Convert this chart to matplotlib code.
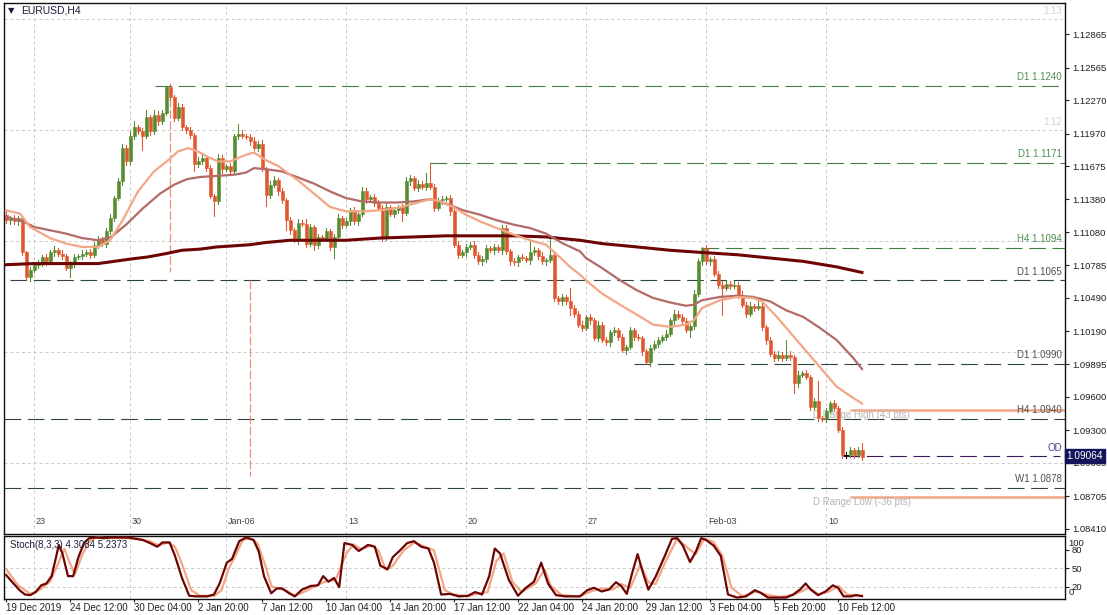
import matplotlib
matplotlib.use('Agg')
import matplotlib.pyplot as plt
import matplotlib.transforms as mtransforms
import numpy as np

plt.rcParams['font.family'] = ['Liberation Sans', 'DejaVu Sans']

# EURUSD H4 candles, prices in 1/10000 (11119 -> 1.1119), open = previous close
first_open = 11124
closes = [11119, 11121, 11118, 11121, 11090, 11068, 11074, 11079, 11080, 11086,
          11082, 11090, 11092, 11089, 11087, 11076, 11080, 11086, 11087, 11089,
          11090, 11088, 11097, 11102, 11098, 11109, 11121, 11139, 11154, 11184,
          11172, 11195, 11203, 11199, 11195, 11212, 11199, 11214, 11208, 11216,
          11239, 11230, 11211, 11221, 11203, 11200, 11196, 11170, 11172, 11175,
          11166, 11141, 11136, 11175, 11165, 11168, 11163, 11195, 11197, 11195,
          11194, 11190, 11184, 11188, 11165, 11142, 11151, 11155, 11145, 11137,
          11119, 11110, 11101, 11117, 11116, 11098, 11113, 11097, 11104, 11102,
          11109, 11095, 11104, 11121, 11115, 11118, 11128, 11118, 11125, 11145,
          11138, 11140, 11135, 11130, 11104, 11131, 11125, 11128, 11131, 11126,
          11154, 11157, 11148, 11152, 11149, 11153, 11149, 11130, 11137, 11138,
          11139, 11127, 11097, 11088, 11090, 11095, 11097, 11088, 11082, 11084,
          11094, 11092, 11095, 11092, 11112, 11091, 11082, 11081, 11086, 11085,
          11083, 11090, 11092, 11087, 11082, 11083, 11088, 11049, 11046, 11050,
          11046, 11040, 11035, 11025, 11022, 11032, 11029, 11013, 11025, 11011,
          11009, 11018, 11020, 11014, 11002, 11005, 11020, 11014, 11013, 11001,
          10991, 11004, 11008, 11011, 11014, 11017, 11029, 11035, 11032, 11028,
          11020, 11024, 11053, 11082, 11094, 11082, 11084, 11071, 11061, 11058,
          11062, 11060, 11061, 11052, 11043, 11035, 11042, 11040, 11042, 11023,
          11011, 10999, 10995, 10998, 10995, 10998, 10996, 10972, 10980, 10981,
          10978, 10951, 10956, 10941, 10940, 10947, 10954, 10950, 10930, 10908,
          10908, 10912, 10908, 10912, 10906]
wick_up = [3, 2, 3, 2, 2, 1, 3, 2, 3, 2, 3, 2, 4, 2, 3, 2, 2, 3, 2, 3,
           2, 3, 2, 3, 2, 3, 4, 2, 3, 4, 3, 4, 5, 2, 3, 6, 2, 4, 3, 2,
           1, 3, 2, 4, 3, 2, 3, 2, 4, 3, 2, 3, 2, 4, 3, 2, 3, 2, 9, 3,
           2, 3, 4, 2, 3, 2, 3, 4, 2, 3, 2, 3, 2, 3, 2, 4, 3, 2, 3, 2,
           3, 2, 3, 4, 2, 3, 2, 3, 2, 4, 3, 2, 3, 2, 3, 4, 2, 3, 2, 3,
           4, 3, 2, 3, 2, 9, 18, 3, 2, 3, 2, 3, 2, 3, 2, 3, 2, 3, 2, 3,
           3, 2, 3, 2, 3, 3, 2, 3, 2, 3, 2, 12, 3, 2, 3, 2, 18, 3, 2, 3,
           2, 12, 3, 2, 3, 2, 3, 2, 3, 2, 3, 2, 3, 2, 3, 2, 3, 2, 3, 2,
           2, 3, 2, 3, 2, 3, 2, 3, 2, 3, 3, 2, 3, 2, 1, 3, 2, 3, 2, 3,
           3, 2, 3, 2, 3, 2, 3, 2, 4, 3, 2, 3, 2, 3, 2, 13, 3, 2, 3, 2,
           3, 2, 3, 18, 2, 3, 2, 3, 2, 3, 2, 3, 2, 3, 6]
wick_dn = [2, 3, 2, 3, 2, 3, 4, 2, 3, 2, 3, 2, 3, 2, 3, 2, 8, 3, 2, 3,
           2, 3, 2, 3, 2, 3, 2, 3, 2, 3, 3, 2, 3, 2, 13, 2, 3, 2, 3, 2,
           2, 3, 3, 2, 3, 2, 3, 7, 3, 2, 3, 2, 13, 2, 3, 2, 3, 2, 3, 2,
           2, 3, 2, 3, 2, 10, 3, 2, 3, 2, 9, 3, 2, 3, 2, 3, 2, 5, 3, 2,
           2, 3, 10, 2, 3, 2, 3, 2, 3, 2, 3, 2, 3, 2, 4, 3, 2, 3, 2, 8,
           2, 3, 2, 3, 2, 3, 2, 3, 2, 3, 2, 3, 2, 3, 2, 3, 2, 3, 2, 3,
           3, 2, 3, 2, 3, 2, 3, 2, 3, 2, 2, 3, 2, 3, 2, 3, 2, 3, 2, 3,
           2, 6, 3, 2, 3, 2, 3, 2, 3, 2, 2, 3, 2, 3, 2, 3, 2, 3, 2, 3,
           1, 3, 2, 3, 2, 3, 2, 3, 2, 3, 2, 6, 3, 2, 3, 2, 3, 2, 3, 24,
           2, 3, 2, 3, 2, 3, 2, 3, 2, 3, 3, 2, 3, 2, 3, 2, 3, 9, 3, 2,
           2, 3, 2, 3, 2, 3, 2, 3, 2, 3, 3, 2, 3, 2, 3]

# moving averages (bar index, price in 1/10000)
fast_idx = [0, 3.5, 6, 11, 15, 19, 23, 26, 29, 33, 37, 40.5, 43, 45.5, 48, 50.5, 53, 56, 60, 62,
            65, 68, 71, 73, 77, 81, 85, 89, 93.5, 97.7, 102, 106, 108.5, 111.8, 115, 118.5, 122.7,
            127, 131, 135, 139.3, 141, 143.5, 145, 149, 153.5, 157.7, 161.8, 166, 170, 172, 174,
            178.5, 182.7, 186.8, 189, 192.7, 197.7, 202.7, 207.7, 211.8, 214]
fast_val = [11128, 11125, 11113, 11103, 11098, 11095, 11095, 11101, 11118, 11145, 11163, 11173,
            11181, 11184, 11181, 11176, 11172, 11172, 11178, 11180, 11173, 11168, 11160, 11155,
            11143, 11131, 11127, 11127, 11128, 11130, 11134, 11138, 11136, 11131, 11124, 11118,
            11112, 11106, 11101, 11097, 11083, 11077, 11070, 11065, 11053, 11043, 11034, 11025,
            11023, 11025, 11029, 11040, 11047, 11050, 11049, 11046, 11032, 11011, 10990, 10969,
            10959, 10954]
slow_idx = [0, 4.3, 7, 11, 15, 19, 23, 26.3, 30, 34.3, 38.5, 42, 45.2, 48.5, 52.7, 57, 60, 62, 65,
            69, 72.7, 77, 81, 85, 89, 93.5, 97.7, 102, 106, 110, 114.3, 118.5, 122.7, 127, 131,
            135, 139.3, 143.5, 145, 149, 153.5, 157.7, 161.8, 166, 170, 172, 174, 178.5, 182.7,
            186.8, 191, 195, 199.3, 203.5, 207.7, 211.8, 214]
slow_val = [11122, 11118, 11113, 11110, 11107, 11103, 11101, 11104, 11115, 11130, 11143, 11151,
            11156, 11158, 11159, 11160, 11162, 11166, 11165, 11163, 11158, 11152, 11145, 11139,
            11136, 11135, 11135, 11136, 11138, 11134, 11128, 11124, 11119, 11115, 11112, 11107,
            11098, 11091, 11085, 11076, 11065, 11056, 11049, 11045, 11042, 11043, 11047, 11050,
            11051, 11050, 11046, 11038, 11032, 11022, 11011, 10995, 10985]
ma200_idx = [0, 7, 15, 23, 27, 31, 35.5, 40, 44, 48.5, 52.7, 57, 61, 65, 71, 77, 85, 93.5, 102,
             110, 118.5, 127, 135, 143.5, 149, 157.7, 166, 174, 182.7, 191, 199.3, 207.7, 214]
ma200_val = [11079, 11080, 11080, 11080, 11082, 11084, 11086, 11089, 11092, 11093, 11095, 11096,
             11097, 11099, 11101, 11101, 11101, 11103, 11104, 11105, 11105, 11105, 11104, 11101,
             11098, 11095, 11092, 11090, 11088, 11085, 11082, 11077, 11072]

# Stochastic(8,3,3)
k_idx = [0, 2, 3.4, 4.75, 6.1, 7.4, 8.8, 10.1, 11.4, 12.3, 13.2, 14.1, 15.5, 16.8, 18.1, 19.5,
         20.8, 22.6, 24.4, 26.2, 28, 30.6, 34.2, 36, 37.8, 39.1, 40.9, 42.2, 44, 45.8, 47.5, 50.3,
         52, 53.4, 55.2, 56.5, 58.3, 60, 61.9, 63.2, 64.5, 66.3, 67.7, 69, 70.8, 72.2, 74, 76.2,
         78, 79.3, 80.6, 82, 83.3, 84.6, 86.5, 88.2, 90.5, 92.2, 93.6, 95.4, 96.7, 98.5, 100.3,
         102, 103.8, 105.6, 107, 108.8, 111, 113.2, 115.5, 117.3, 119, 120.8, 122.2, 123.5, 125.7,
         128, 129.8, 132, 133.8, 135.5, 137.5, 139.8, 143.5, 145.3, 147, 148.9, 150.7, 152.5,
         153.8, 155.2, 156.5, 157.9, 159.3, 160.6, 162.4, 164.7, 166.5, 167.8, 169.2, 171, 172.4,
         173.8, 175, 176.9, 178.7, 180.5, 182.8, 185, 187.2, 188.6, 190.5, 195, 196.8, 198.5,
         199.9, 201.2, 203, 204.9, 206.7, 208, 209.4, 211.2, 212.5, 214]
k_val = [39, 24, 14, 7, 6, 11, 22, 25, 37, 62, 88, 74, 37, 37, 68, 91, 99, 100, 99, 100, 100, 100,
         96, 91, 85, 92, 92, 71, 34, 5, 4, 4, 7, 25, 59, 65, 94, 100, 96, 77, 37, 9, 17, 17, 9, 4,
         15, 21, 22, 37, 28, 34, 19, 91, 88, 78, 88, 85, 54, 48, 68, 79, 91, 94, 85, 82, 59, 7, 8,
         4, 5, 11, 7, 37, 82, 74, 31, 5, 17, 28, 59, 25, 6, 4, 4, 14, 18, 12, 15, 27, 21, 8, 41,
         73, 41, 15, 36, 70, 98, 99, 87, 60, 76, 99, 96, 87, 70, 7, 2, 4, 14, 10, 2, 2, 7, 15, 25,
         15, 6, 12, 22, 18, 4, 4, 6, 4.3]
d_idx = [0.1, 3, 6.1, 8.3, 11, 12.8, 14.6, 15.9, 17.25, 19, 20.8, 22.6, 25.3, 28.9, 32.4, 36,
         38.2, 40.5, 42.25, 44, 46.3, 48.5, 52.1, 53.9, 55.6, 57.4, 59.2, 61, 62.8, 64.6, 66.4,
         68.1, 69.9, 72.2, 74.4, 77.1, 79.75, 82.4, 85.1, 86.9, 88.7, 91.4, 93.1, 94.9, 96.7,
         99.4, 102.1, 104.75, 107, 109.7, 111.9, 115.5, 118.1, 120.4, 122.6, 124.4, 126.6, 128.9,
         132.4, 134.7, 136.2, 138.9, 143.4, 146.2, 148.9, 151.6, 153.8, 156.1, 158.6, 160.6,
         162.4, 165.1, 167.8, 170.6, 172.4, 174.6, 176.9, 179.1, 181.4, 184.1, 187.7, 190, 193.2,
         196.8, 200.8, 203.1, 205.8, 208.1, 210.3, 214]
d_val = [48, 22, 8, 14, 28, 54, 82, 59, 40, 71, 94, 100, 99, 99, 98, 94, 87, 92, 85, 57, 14, 5, 5,
         14, 48, 71, 96, 99, 91, 59, 20, 17, 14, 5, 11, 20, 28, 31, 74, 89, 81, 87, 79, 48, 54, 79,
         92, 85, 79, 14, 7, 4, 9, 11, 62, 74, 28, 11, 25, 48, 21, 6, 4, 12, 17, 15, 24, 18, 56, 27,
         24, 64, 98, 82, 73, 98, 93, 70, 18, 4, 12, 7, 3, 6, 18, 7, 12, 21, 7, 5.2]

price_ticks = [1.12865, 1.12565, 1.12270, 1.11970, 1.11675, 1.11380, 1.11080, 1.10785,
               1.10490, 1.10190, 1.09895, 1.09600, 1.09300, 1.09005, 1.08705, 1.08410]
week_idx = [7, 31, 55, 85, 115, 145, 175, 205]
week_lbl = ['23', '30', 'Jan-06', '13', '20', '27', 'Feb-03', '10']
time_idx = [0, 16, 32, 48, 64, 80, 96, 112, 128, 144, 160, 176, 192, 208]
time_lbl = ['19 Dec 2019', '24 Dec 12:00', '30 Dec 04:00', '2 Jan 20:00', '7 Jan 12:00',
            '10 Jan 04:00', '14 Jan 20:00', '17 Jan 12:00', '22 Jan 04:00', '24 Jan 20:00',
            '29 Jan 12:00', '3 Feb 04:00', '5 Feb 20:00', '10 Feb 12:00']

# support / resistance levels: (label, price, start bar, colour group)
levels = [('D1 1.1240', 1.1240, 37.25, 'g'), ('D1 1.1171', 1.1171, 106, 'g'),
          ('H4 1.1094', 1.1094, 174, 'g'), ('D1 1.1065', 1.1065, 1, 'd'),
          ('D1 1.0990', 1.0990, 157, 'd'), ('H4 1.0940', 1.0940, -0.5, 'd'),
          ('W1 1.0878', 1.0878, -0.5, 'd')]
od_price = 1.09064
range_high = 1.0948
range_low = 1.0870

BULL = '#578C2E'
BEAR = '#E2562D'
FAST = '#F2A785'
SLOW = '#B36A68'
MA200 = '#6E0505'
GREEN_LVL = '#3F7F3F'
DARK_LVL = '#2E4444'
TXT = '#1C1C3C'

X0, X1 = -0.5, 264.75

fig = plt.figure(figsize=(11.07, 6.15), dpi=100)
ax = fig.add_axes([4 / 1107, 1 - 533.6 / 615, 1061 / 1107, 530.6 / 615])
ax2 = fig.add_axes([4 / 1107, 1 - 598.5 / 615, 1061 / 1107, 62.5 / 615])

ax.set_xlim(X0, X1)
ax.set_ylim(1.08368, 1.13147)
ax2.set_xlim(X0, X1)
ax2.set_ylim(0.5, 102.5)

# grid
for lv in [1.09, 1.10, 1.11, 1.12, 1.13]:
    ax.axhline(lv, color='#C8C8C8', lw=0.7, ls=(0, (3, 3)), zorder=0.5)
for w in week_idx:
    ax.axvline(w, color='#C8C8C8', lw=0.7, ls=(0, (3, 3)), zorder=0.5)
    ax2.axvline(w, color='#C8C8C8', lw=0.7, ls=(0, (3, 3)), zorder=0.5)
for lv in [20, 50]:
    ax2.axhline(lv, color='#C8C8C8', lw=0.7, ls=(0, (3, 3)), zorder=0.5)
ax.text(264, 1.13 + 0.00075, '1.13', ha='right', va='center', fontsize=7, color='#CFCFCF')
ax.text(264, 1.12 + 0.00075, '1.12', ha='right', va='center', fontsize=7, color='#CFCFCF')

# levels
for lbl, p, start, grp in levels:
    col = GREEN_LVL if grp == 'g' else DARK_LVL
    ax.plot([start, X1], [p, p], color=col, lw=0.8, dashes=(15, 6), zorder=1.5)
    ax.text(264, p + 0.00077, lbl, ha='right', va='center', fontsize=7,
            color='#4F8F4F' if grp == 'g' else '#505050')
ax.plot([209.25, 263.5], [od_price, od_price], color='#3A1A5A', lw=0.8, dashes=(15, 6), zorder=1.5)
ax.text(264, od_price + 0.00077, 'OD', ha='right', va='center', fontsize=7, color='#5A3C8C')

ax.plot([211, X1], [range_high, range_high], color=FAST, lw=1.8, zorder=1.5, solid_capstyle='butt')
ax.plot([211, X1], [range_low, range_low], color=FAST, lw=1.8, zorder=1.5, solid_capstyle='butt')
ax.text(201.75, 1.094365, 'D Range High (43 pts)', ha='left', va='center', fontsize=7, color='#B4B4B4', zorder=1.6)
ax.text(201.75, 1.08653, 'D Range Low (-36 pts)', ha='left', va='center', fontsize=7, color='#B4B4B4', zorder=1.6)

# vertical markers
ax.plot([41, 41], [1.1239, 1.1072], color='#E8907A', lw=0.9, dashes=(7, 2), zorder=1.5)
ax.plot([61, 61], [1.1065, 1.0889], color='#E8907A', lw=0.9, dashes=(7, 2), zorder=1.5)

# week labels inside main panel
for w, lbl in zip(week_idx, week_lbl):
    ax.text(w + 0.5, 1.08473, lbl, ha='left', va='center', fontsize=6.5, color='#404040')

# candles
opens = [first_open] + closes[:-1]
for i in range(len(closes)):
    o = opens[i] / 10000
    c = closes[i] / 10000
    hi = max(o, c) + wick_up[i] / 10000
    lo = min(o, c) - wick_dn[i] / 10000
    if c > o:
        col = BULL
    elif c < o:
        col = BEAR
    else:
        col = '#000000'
    ax.plot([i, i], [lo, hi], color=col, lw=0.75, zorder=2)
    if c == o:
        ax.plot([i - 0.4, i + 0.4], [c, c], color=col, lw=0.75, zorder=2.1)
    else:
        ax.bar(i, c - o, bottom=o, width=0.75, color=col, edgecolor=col, lw=0.4, zorder=2.1)

# moving averages
ax.plot(ma200_idx, np.array(ma200_val) / 10000, color=MA200, lw=2.2, zorder=3)
ax.plot(slow_idx, np.array(slow_val) / 10000, color=SLOW, lw=1.6, zorder=3)
ax.plot(fast_idx, np.array(fast_val) / 10000, color=FAST, lw=1.6, zorder=3)

# price axis
ax.yaxis.tick_right()
ax.set_yticks(price_ticks)
ax.set_yticklabels([f'{p:.5f}' for p in price_ticks])
ax.tick_params(axis='y', direction='out', length=3, width=0.8, pad=2, labelsize=6.8,
               colors='#202020')
ax.set_xticks([])

# current price tag
blend = mtransforms.blended_transform_factory(ax.transAxes, ax.transData)
ax.text(1.0015, od_price, '1.09064', transform=blend, ha='left', va='center', fontsize=7.2,
        color='white', zorder=10, clip_on=False,
        bbox=dict(boxstyle='square,pad=0.2', fc='#14145A', ec='#14145A'))

# title
ax.text(0.004, 0.985, '\u25bc', transform=ax.transAxes, fontsize=6, color=TXT,
        ha='left', va='center', family='DejaVu Sans')
ax.text(0.016, 0.985, 'EURUSD,H4', transform=ax.transAxes, fontsize=7.5, color=TXT,
        ha='left', va='center')

# stochastic
ax2.plot(d_idx, d_val, color=FAST, lw=1.6, zorder=3)
ax2.plot(k_idx, k_val, color=MA200, lw=1.6, zorder=3)
ax2.text(1, 0.85, 'Stoch(8,3,3) 4.3084 5.2373', transform=mtransforms.blended_transform_factory(
    ax2.transData, ax2.transAxes), fontsize=7, color=TXT, ha='left', va='center')
ax2.yaxis.tick_right()
ax2.set_yticks([20, 50, 80])
ax2.set_yticklabels(['20', '50', '80'])
ax2.tick_params(axis='y', direction='out', length=3, width=0.8, pad=2, labelsize=6.8,
                colors='#202020')
blend2 = mtransforms.blended_transform_factory(ax2.transAxes, ax2.transData)
ax2.text(1.0035, 91, '100', transform=blend2, ha='left', va='center', fontsize=6.8, color='#202020')
ax2.text(1.0035, 10, '0', transform=blend2, ha='left', va='center', fontsize=6.8, color='#202020')

ax2.set_xticks(time_idx)
ax2.set_xticklabels(time_lbl)
for t in ax2.get_xticklabels():
    t.set_ha('left')
ax2.tick_params(axis='x', direction='out', length=2.5, width=0.8, pad=1, labelsize=7,
                colors='#202020')

for a in (ax, ax2):
    for s in a.spines.values():
        s.set_color('#101010')
        s.set_linewidth(1.0)

fig.savefig('out.png', dpi=100, facecolor='white')
